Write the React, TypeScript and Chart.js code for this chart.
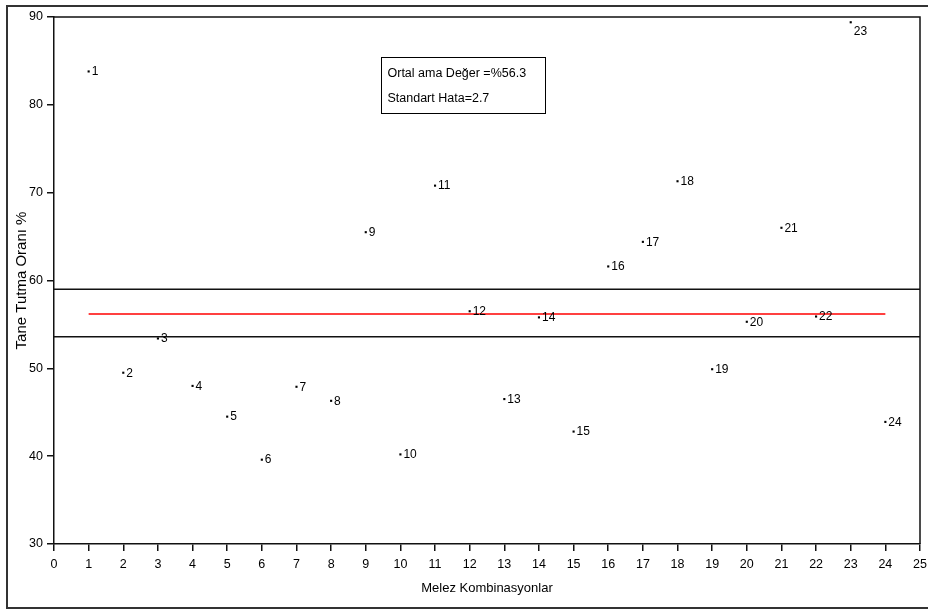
import React, { useEffect, useRef } from "react";
import { Chart, registerables } from "chart.js";

Chart.register(...registerables);

const combinations = [1, 2, 3, 4, 5, 6, 7, 8, 9, 10, 11, 12, 13, 14, 15, 16, 17, 18, 19, 20, 21, 22, 23, 24];
const retention = [83.8, 49.5, 53.4, 48.0, 44.5, 39.6, 47.9, 46.3, 65.5, 40.2, 70.8, 56.5, 46.5, 55.8, 42.8, 61.6, 64.4, 71.3, 49.9, 55.3, 66.0, 55.9, 89.4, 43.9];
const meanValue = 56.2;
const upperLimit = 59.0;
const lowerLimit = 53.6;
const xTitle = "Melez Kombinasyonlar";
const yTitle = "Tane Tutma Oranı %";
const infoLines = ["Ortal ama Değer =%56.3", "Standart Hata=2.7"];
const FONT = "'Liberation Sans', Arial, sans-serif";

const framePlugin = {
  id: "framePlugin",
  beforeDraw(chart: any) {
    const ctx = chart.ctx;
    ctx.save();
    ctx.fillStyle = "#fff";
    ctx.fillRect(0, 0, chart.width, chart.height);
    ctx.strokeStyle = "#333";
    ctx.lineWidth = 2;
    ctx.beginPath();
    ctx.moveTo(chart.width + 2, 6);
    ctx.lineTo(7, 6);
    ctx.lineTo(7, 608);
    ctx.lineTo(chart.width + 2, 608);
    ctx.stroke();
    ctx.restore();
  },
  afterDraw(chart: any) {
    const ctx = chart.ctx;
    const a = chart.chartArea;
    const xs = chart.scales.x;
    const ys = chart.scales.y;
    ctx.save();
    ctx.strokeStyle = "#111";
    ctx.lineWidth = 1.5;
    ctx.beginPath();
    ctx.moveTo(a.left, a.top);
    ctx.lineTo(a.right, a.top);
    ctx.lineTo(a.right, a.bottom);
    ctx.stroke();

    // point labels
    ctx.fillStyle = "#000";
    ctx.font = `12px ${FONT}`;
    ctx.textBaseline = "middle";
    ctx.textAlign = "left";
    combinations.forEach((c, i) => {
      const px = xs.getPixelForValue(c);
      let py = ys.getPixelForValue(retention[i]);
      py = Math.max(py, a.top + 14);
      ctx.fillText(String(c), px + 3, py + 0.5);
    });

    // info box
    const bx = Math.round(xs.getPixelForValue(9.44)) + 0.5;
    const by = Math.round(ys.getPixelForValue(85.45)) + 0.5;
    const bw = 164;
    const bh = 56;
    ctx.strokeStyle = "#000";
    ctx.lineWidth = 1;
    ctx.strokeRect(bx, by, bw, bh);
    ctx.font = `12.5px ${FONT}`;
    ctx.fillText(infoLines[0], bx + 6, by + 16);
    ctx.fillText(infoLines[1], bx + 6, by + 41);
    ctx.restore();
  },
};

export default function App() {
  const ref = useRef<HTMLCanvasElement>(null);
  useEffect(() => {
    const canvas = ref.current!;
    const points = combinations.map((c, i) => ({ x: c, y: retention[i] }));
    const chart = new Chart(canvas, {
      type: "scatter",
      data: {
        datasets: [
          {
            label: "upper",
            data: [{ x: 0, y: upperLimit }, { x: 25, y: upperLimit }],
            showLine: true,
            borderColor: "#111",
            borderWidth: 1.5,
            pointRadius: 0,
          },
          {
            label: "lower",
            data: [{ x: 0, y: lowerLimit }, { x: 25, y: lowerLimit }],
            showLine: true,
            borderColor: "#111",
            borderWidth: 1.5,
            pointRadius: 0,
          },
          {
            label: "mean",
            data: [{ x: combinations[0], y: meanValue }, { x: combinations[combinations.length - 1], y: meanValue }],
            showLine: true,
            borderColor: "#ff0000",
            borderWidth: 1.5,
            pointRadius: 0,
          },
          {
            label: "values",
            data: points,
            pointStyle: "rect",
            pointRadius: 1.5,
            pointBorderWidth: 0,
            backgroundColor: "#000",
            borderColor: "#000",
          },
        ],
      },
      options: {
        animation: false,
        responsive: false,
        events: [],
        layout: { padding: { left: 7, top: 17, right: 8, bottom: 0 } },
        plugins: { legend: { display: false }, tooltip: { enabled: false } },
        scales: {
          x: {
            type: "linear",
            min: 0,
            max: 25,
            afterFit(scale: any) {
              scale.height = 67;
              scale.paddingLeft = 0;
              scale.paddingRight = 0;
            },
            ticks: {
              stepSize: 1,
              color: "#000",
              font: { family: FONT, size: 12.5 },
              padding: 6,
              maxRotation: 0,
              autoSkip: false,
            },
            grid: { drawOnChartArea: false, tickLength: 7, color: "#111", lineWidth: 1.5 },
            border: { display: true, color: "#111", width: 1.5 },
            title: {
              display: true,
              text: xTitle,
              color: "#000",
              font: { family: FONT, size: 13 },
              padding: { top: 0, bottom: 15 },
            },
          },
          y: {
            type: "linear",
            min: 30,
            max: 90,
            afterFit(scale: any) {
              scale.width = 47;
              scale.paddingTop = 0;
              scale.paddingBottom = 0;
            },
            ticks: {
              stepSize: 10,
              color: "#000",
              font: { family: FONT, size: 12.5 },
              padding: 4,
            },
            grid: { drawOnChartArea: false, tickLength: 7, color: "#111", lineWidth: 1.5 },
            border: { display: true, color: "#111", width: 1.5 },
            title: {
              display: true,
              text: yTitle,
              color: "#000",
              font: { family: FONT, size: 15 },
              padding: { top: 6, bottom: 0 },
            },
          },
        },
      },
      plugins: [framePlugin],
    } as any);
    return () => chart.destroy();
  }, []);
  return (
    <div style={{ position: "fixed", left: 0, top: 0, width: 928, height: 611 }}>
      <canvas ref={ref} width={928} height={611} style={{ width: 928, height: 611 }} />
    </div>
  );
}
